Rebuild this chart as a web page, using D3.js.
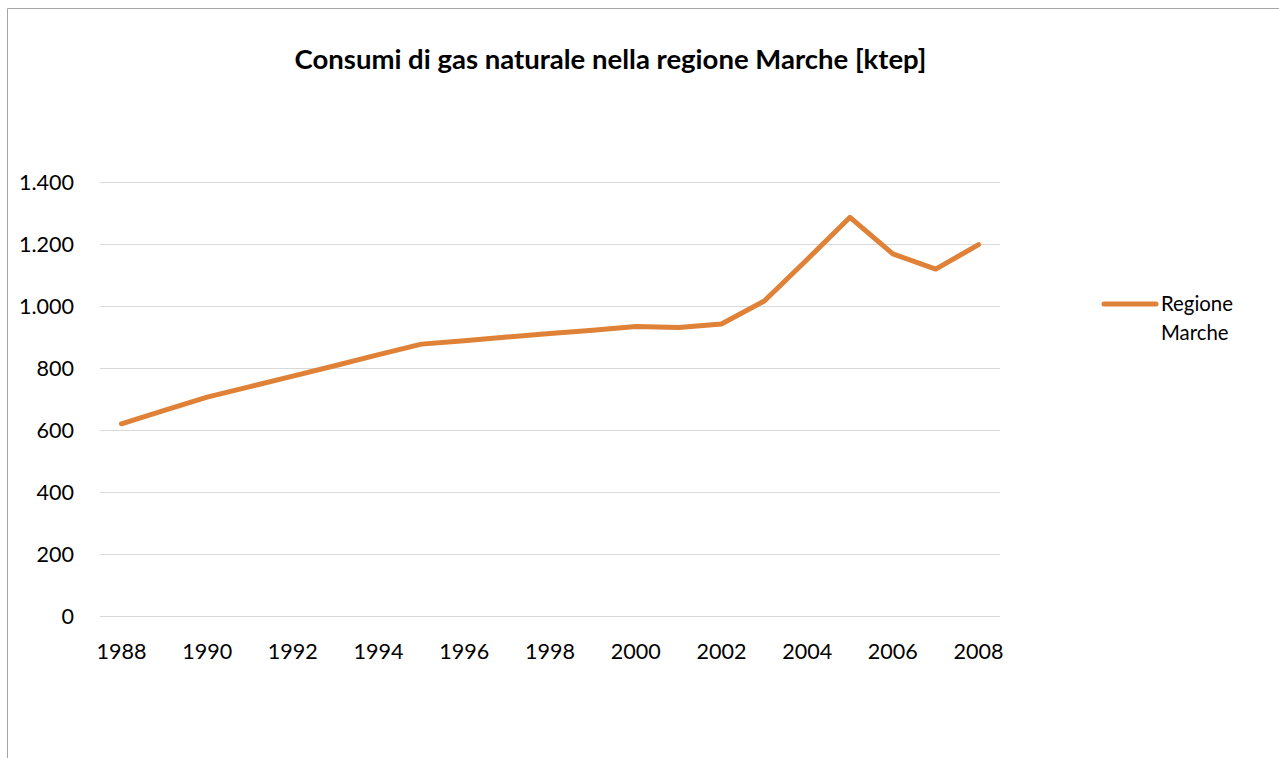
<!DOCTYPE html>
<html><head><meta charset="utf-8">
<script src="https://cdn.jsdelivr.net/npm/d3@7"></script>
<style>body{margin:0;background:#fff;} svg{display:block;}</style>
</head><body>
<script>
const years = [1988,1989,1990,1991,1992,1993,1994,1995,1996,1997,1998,1999,2000,2001,2002,2003,2004,2005,2006,2007,2008];
const values = [620,663,706,740,774,808,843,877,888,900,911,922,934,931,942,1016,1150,1286,1168,1119,1198];
const yTicks = [0,200,400,600,800,1000,1200,1400];
const xTickLabels = [1988,1990,1992,1994,1996,1998,2000,2002,2004,2006,2008];
const seriesName = ["Regione","Marche"];
const title = "Consumi di gas naturale nella regione Marche [ktep]";

const W = 1279, H = 758;
const font = "Lato, 'Open Sans', sans-serif";
const svg = d3.select("body").append("svg").attr("width", W).attr("height", H);

// font size that makes a sample string a given width
function fitSize(str, target, weight) {
  const t = svg.append("text").attr("font-family",font).attr("font-weight",weight||"normal")
    .attr("font-size",100).text(str);
  const w = t.node().getComputedTextLength();
  t.remove();
  return 100 * target / w;
}
const titleSize = fitSize(title, 632, "bold");
const tickSize = fitSize("1988", 50, "normal");
const legSize = fitSize("Regione", 72, "normal");

// outer border
svg.append("path").attr("d", `M7.5,${H} V8.5 H${W}`).attr("fill","none").attr("stroke","#a6a6a6").attr("stroke-width",1);

const x = d3.scaleBand().domain(years).range([100, 1000]);
const y = d3.scaleLinear().domain([0,1400]).range([616, 182]);

// grid
svg.append("g").selectAll("line").data(yTicks).join("line")
  .attr("x1",100).attr("x2",1000).attr("y1",d=>Math.round(y(d))+0.5).attr("y2",d=>Math.round(y(d))+0.5)
  .attr("stroke","#d9d9d9").attr("stroke-width",1);

const fmt = d => d3.format(",")(d).replace(/,/g, ".");
// y labels
const yAxis = d3.axisLeft(y).tickValues(yTicks).tickFormat(fmt).tickSize(0).tickPadding(0);
const ya = svg.append("g").attr("transform","translate(74,0)").call(yAxis);
ya.select(".domain").remove();
ya.selectAll("text").attr("font-family",font).attr("font-size",tickSize).attr("fill","#000").attr("dy","0.35em");

// x labels
const xAxis = d3.axisBottom(x).tickValues(xTickLabels).tickSize(0).tickPadding(0);
const xa = svg.append("g").attr("transform","translate(0,0)").call(xAxis);
xa.select(".domain").remove();
xa.selectAll("text").attr("font-family",font).attr("font-size",tickSize).attr("fill","#000").attr("y",659).attr("dy",null);

// line
const line = d3.line().x((d,i)=>x(years[i])+x.bandwidth()/2).y(d=>y(d));
svg.append("path").datum(values).attr("d",line).attr("fill","none")
  .attr("stroke","#DF8136").attr("stroke-width",5).attr("stroke-linejoin","round").attr("stroke-linecap","round");

// title
svg.append("text").attr("x",610.5).attr("y",69).attr("text-anchor","middle")
  .attr("font-family",font).attr("font-weight","bold").attr("font-size",titleSize).attr("fill","#000").text(title);

// legend
svg.append("line").attr("x1",1104).attr("x2",1156).attr("y1",304).attr("y2",304)
  .attr("stroke","#DF8136").attr("stroke-width",5).attr("stroke-linecap","round");
svg.append("g").selectAll("text").data(seriesName).join("text")
  .attr("x",1161).attr("y",(d,i)=>311+i*29).attr("font-family",font).attr("font-size",legSize).attr("fill","#000").text(d=>d);
</script>
</body></html>
